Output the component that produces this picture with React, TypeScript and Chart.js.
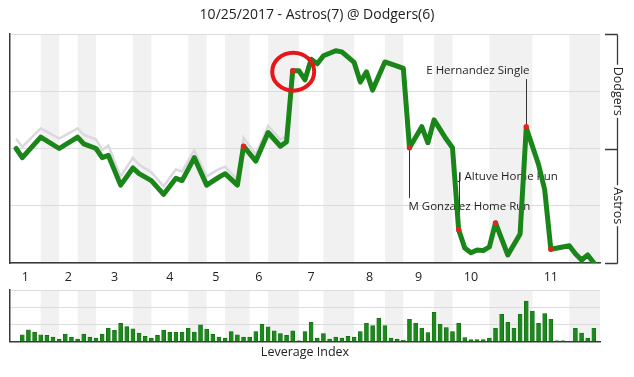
import React, { useEffect, useRef } from "react";
import { Chart, registerables } from "chart.js";

Chart.register(...registerables);

const TITLE = "10/25/2017 - Astros(7) @ Dodgers(6)";
const INNING_LABELS = ["1", "2", "3", "4", "5", "6", "7", "8", "9", "10", "11"];
const INNING_TICKS = [2.5, 9.5, 17, 26, 33.5, 40.5, 49, 58.5, 66.5, 75, 88];
const BOTTOM_HALF_START = [5, 11, 20, 29, 35, 42, 51, 61, 69, 78, 91];
const BOTTOM_HALF_END = [8, 14, 23, 32, 39, 47, 56, 64, 72, 85, 96];
const PA_TOTAL = 96;

// Dodgers win probability after each plate appearance (vertices of the line)
const WP_PA = [1, 2, 5, 8, 11, 12, 14, 15, 16, 18, 20, 21, 23, 25, 27, 28, 30, 32, 34, 35, 37, 38, 40, 42, 44, 45, 46, 47, 48, 49, 50, 51, 53, 54, 56, 57, 58, 59, 61, 63, 64, 65, 67, 68, 69, 71, 72, 73, 74, 75, 76, 77, 78, 79, 81, 83, 84, 86, 87, 88, 91, 92, 93, 94, 95];
const WP_DODGERS = [0.5, 0.46, 0.55, 0.5, 0.55, 0.52, 0.5, 0.46, 0.47, 0.34, 0.415, 0.39, 0.36, 0.3, 0.37, 0.36, 0.46, 0.34, 0.375, 0.39, 0.34, 0.51, 0.445, 0.57, 0.51, 0.53, 0.84, 0.84, 0.8, 0.89, 0.87, 0.905, 0.927, 0.922, 0.876, 0.79, 0.835, 0.755, 0.878, 0.86, 0.85, 0.503, 0.595, 0.525, 0.625, 0.54, 0.503, 0.145, 0.065, 0.045, 0.057, 0.054, 0.07, 0.175, 0.035, 0.127, 0.59, 0.43, 0.32, 0.06, 0.075, 0.04, 0.013, 0.035, 0.0];

// light secondary line (early innings)
const ALT_PA = [1, 2, 5, 8, 11, 12, 14, 15, 16, 18, 20, 21, 23, 25, 27, 28, 30, 32, 34, 35, 37, 38, 40, 42, 44, 45];
const ALT_WP = [0.543, 0.507, 0.588, 0.543, 0.588, 0.56, 0.539, 0.493, 0.513, 0.378, 0.459, 0.43, 0.396, 0.335, 0.408, 0.4, 0.493, 0.378, 0.41, 0.42, 0.364, 0.547, 0.474, 0.598, 0.539, 0.555];

// key plays (red dots)
const KEY_PA = [38, 46, 65, 73, 79, 84, 88];
const KEY_WP = [0.51, 0.84, 0.503, 0.145, 0.175, 0.595, 0.06];

// leverage index per plate appearance, starting at PA 2
const LI_FIRST_PA = 2;
const LEVERAGE = [
  0.38, 0.67, 0.54, 0.38, 0.35, 0.25, 0.13, 0.42, 0.25, 0.13,
  0.42, 0.25, 0.19, 0.42, 0.77, 0.65, 1.06, 0.87, 0.73, 0.48,
  0.29, 0.19, 0.35, 0.65, 0.54, 0.54, 0.54, 0.77, 0.54, 0.96,
  0.71, 0.42, 0.25, 0.19, 0.58, 0.38, 0.25, 0.25, 0.58, 1.0,
  0.85, 0.62, 0.46, 0.35, 0.62, 0.04, 0.58, 1.12, 0.19, 0.46,
  0.13, 0.25, 0.19, 0.29, 0.25, 0.58, 1.06, 0.92, 1.35, 0.92,
  0.19, 0.13, 0.06, 1.29, 1.06, 0.77, 0.52, 1.69, 1.0, 0.81,
  0.58, 1.06, 0.23, 0.1, 0.1, 0.1, 0.19, 0.77, 1.58, 1.12,
  0.77, 1.58, 2.35, 1.77, 1.06, 1.63, 1.29, 0.04, 0.04, 0,
  0.77, 0.48, 0.19, 0.77,
];

const NOTE_TEXT = ["M Gonzalez Home Run", "J Altuve Home Run", "E Hernandez Single"];
const NOTE_PA = [65, 73, 84];
const NOTE_WP = [0.503, 0.145, 0.595];
const NOTE_LABEL_WP = [0.245, 0.377, 0.838];
const NOTE_ALIGN = ["left", "left", "right"];
const CIRCLE_PA = 46;
const CIRCLE_WP = 0.84;

const FONT = '"Open Sans", "DejaVu Sans", sans-serif';
const GREEN = "#1a861a";
const AXIS = "#3a3a3a";
const GRID = "#dcdcdc";
const BAND = "#f1f1f1";

function bandsPlugin() {
  return {
    id: "bands",
    beforeDraw(chart: any) {
      const { ctx, chartArea, scales } = chart;
      ctx.save();
      ctx.fillStyle = BAND;
      for (let i = 0; i < BOTTOM_HALF_START.length; i++) {
        const x0 = scales.x.getPixelForValue(BOTTOM_HALF_START[i]);
        const x1 = scales.x.getPixelForValue(BOTTOM_HALF_END[i]);
        ctx.fillRect(x0, chartArea.top, x1 - x0, chartArea.bottom - chartArea.top);
      }
      ctx.restore();
    },
  };
}

export default function App() {
  const mainRef = useRef<HTMLCanvasElement>(null);
  const liRef = useRef<HTMLCanvasElement>(null);

  useEffect(() => {
    const notesPlugin = {
      id: "notes",
      beforeDatasetsDraw(chart: any) {
        const { ctx, scales } = chart;
        ctx.save();
        ctx.font = `11.5px ${FONT}`;
        ctx.fillStyle = "#1e1e1e";
        ctx.strokeStyle = "#333";
        ctx.lineWidth = 1;
        ctx.textBaseline = "middle";
        for (let i = 0; i < NOTE_TEXT.length; i++) {
          const x = Math.round(scales.x.getPixelForValue(NOTE_PA[i])) + 0.5;
          const yp = scales.y.getPixelForValue(NOTE_WP[i]);
          const yl = scales.y.getPixelForValue(NOTE_LABEL_WP[i]);
          const below = yl > yp;
          ctx.beginPath();
          ctx.moveTo(x, yp);
          ctx.lineTo(x, below ? yl - 9 : (NOTE_ALIGN[i] === "right" ? yl + 8 : yl - 4));
          ctx.stroke();
          ctx.textAlign = NOTE_ALIGN[i] as CanvasTextAlign;
          ctx.fillText(NOTE_TEXT[i], NOTE_ALIGN[i] === "right" ? x + 3 : x - 1, yl);
        }
        ctx.restore();
      },
      afterDatasetsDraw(chart: any) {
        const { ctx, scales } = chart;
        const cx = scales.x.getPixelForValue(CIRCLE_PA);
        const cy = scales.y.getPixelForValue(CIRCLE_WP);
        ctx.save();
        ctx.strokeStyle = "#e3171c";
        ctx.lineWidth = 4;
        ctx.beginPath();
        ctx.ellipse(cx + 0.5, cy + 1, 21, 19, 0, 0, Math.PI * 2);
        ctx.stroke();
        ctx.restore();
      },
      afterDraw(chart: any) {
        const { ctx, chartArea, scales } = chart;
        ctx.save();
        ctx.fillStyle = "#222";
        ctx.font = `14px ${FONT}`;
        ctx.textAlign = "center";
        ctx.textBaseline = "middle";
        ctx.fillText(TITLE, chart.width / 2, 15);
        // right bracket axis
        const bx = Math.round(chartArea.right + 17) + 0.5;
        const yTop = Math.round(scales.y.getPixelForValue(1)) + 0.5;
        const yMid = Math.round(scales.y.getPixelForValue(0.5)) + 0.5;
        const yBot = Math.round(scales.y.getPixelForValue(0)) + 0.5;
        ctx.strokeStyle = AXIS;
        ctx.lineWidth = 1.3;
        ctx.beginPath();
        ctx.moveTo(bx, yTop);
        ctx.lineTo(bx, yBot);
        for (const yy of [yTop, yMid, yBot]) {
          ctx.moveTo(chartArea.right + 5, yy);
          ctx.lineTo(bx, yy);
        }
        ctx.stroke();
        ctx.font = `12.5px ${FONT}`;
        const labels: [string, number][] = [["Dodgers", 0.75], ["Astros", 0.25]];
        for (const [t, v] of labels) {
          const yy = scales.y.getPixelForValue(v);
          ctx.save();
          ctx.translate(bx, yy);
          ctx.rotate(Math.PI / 2);
          const w = ctx.measureText(t).width;
          ctx.fillStyle = "#ffffff";
          ctx.fillRect(-w / 2 - 2, -7, w + 4, 14);
          ctx.fillStyle = "#222";
          ctx.fillText(t, 0, 0);
          ctx.restore();
        }
        ctx.restore();
      },
    };

    const main = new Chart(mainRef.current as HTMLCanvasElement, {
      type: "line",
      data: {
        datasets: [
          {
            data: KEY_PA.map((x, i) => ({ x, y: KEY_WP[i] })),
            showLine: false,
            pointRadius: 2.7,
            pointBackgroundColor: "#e6221f",
            pointBorderWidth: 0,
            order: 0,
          },
          {
            data: WP_PA.map((x, i) => ({ x, y: WP_DODGERS[i] })),
            borderColor: GREEN,
            borderWidth: 5,
            pointRadius: 0,
            tension: 0,
            borderJoinStyle: "round",
            borderCapStyle: "round",
            order: 1,
          },
          {
            data: ALT_PA.map((x, i) => ({ x, y: ALT_WP[i] })),
            borderColor: "#dcd8df",
            borderWidth: 2.5,
            pointRadius: 0,
            tension: 0,
            order: 2,
          },
        ],
      } as any,
      options: {
        responsive: false,
        animation: false,
        events: [],
        layout: { padding: { left: 10, right: 34, top: 34, bottom: 0 } },
        plugins: { legend: { display: false }, tooltip: { enabled: false }, title: { display: false } },
        scales: {
          x: {
            type: "linear",
            min: 0,
            max: PA_TOTAL,
            grid: { display: false, drawTicks: false },
            border: { display: true, color: AXIS, width: 1.5 },
            ticks: {
              autoSkip: false,
              maxRotation: 0,
              padding: 7,
              color: "#222",
              font: { family: FONT, size: 12.5 },
              callback: (_v: any, i: number) => INNING_LABELS[i],
            },
            afterBuildTicks: (axis: any) => {
              axis.ticks = INNING_TICKS.map((v) => ({ value: v }));
            },
          },
          y: {
            min: 0,
            max: 1,
            ticks: { display: false, stepSize: 0.25 },
            grid: { color: GRID, drawTicks: false },
            border: { display: true, color: AXIS, width: 1.5 },
          },
        },
      } as any,
      plugins: [bandsPlugin(), notesPlugin],
    });

    const li = new Chart(liRef.current as HTMLCanvasElement, {
      type: "bar",
      data: {
        datasets: [
          {
            data: LEVERAGE.map((y, i) => ({ x: i + LI_FIRST_PA, y })),
            backgroundColor: "#1b8a1b",
            borderColor: "#106810",
            borderWidth: 0.6,
            barThickness: 4,
          },
        ],
      } as any,
      options: {
        responsive: false,
        animation: false,
        events: [],
        layout: { padding: { left: 10, right: 34, top: 1, bottom: 16.6 } },
        plugins: { legend: { display: false }, tooltip: { enabled: false } },
        scales: {
          x: {
            type: "linear",
            min: 0,
            max: PA_TOTAL,
            offset: false,
            grid: { display: false, drawTicks: false },
            ticks: { display: false },
            border: { display: true, color: AXIS, width: 1.5 },
            title: {
              display: true,
              text: "Leverage Index",
              color: "#222",
              font: { family: FONT, size: 12.5 },
              padding: { top: 4, bottom: 0 },
            },
          },
          y: {
            min: 0,
            max: 3,
            ticks: { display: false, stepSize: 1 },
            grid: { color: GRID, drawTicks: false },
            border: { display: true, color: AXIS, width: 1.5 },
          },
        },
      } as any,
      plugins: [bandsPlugin()],
    });

    return () => {
      main.destroy();
      li.destroy();
    };
  }, []);

  return (
    <div style={{ position: "absolute", left: 0, top: 0, width: 634, height: 377, background: "#fff" }}>
      <canvas ref={liRef} width={634} height={88} style={{ position: "absolute", left: 0, top: 289, width: 634, height: 88 }} />
      <canvas ref={mainRef} width={634} height={292} style={{ position: "absolute", left: 0, top: 0, width: 634, height: 292 }} />
    </div>
  );
}
